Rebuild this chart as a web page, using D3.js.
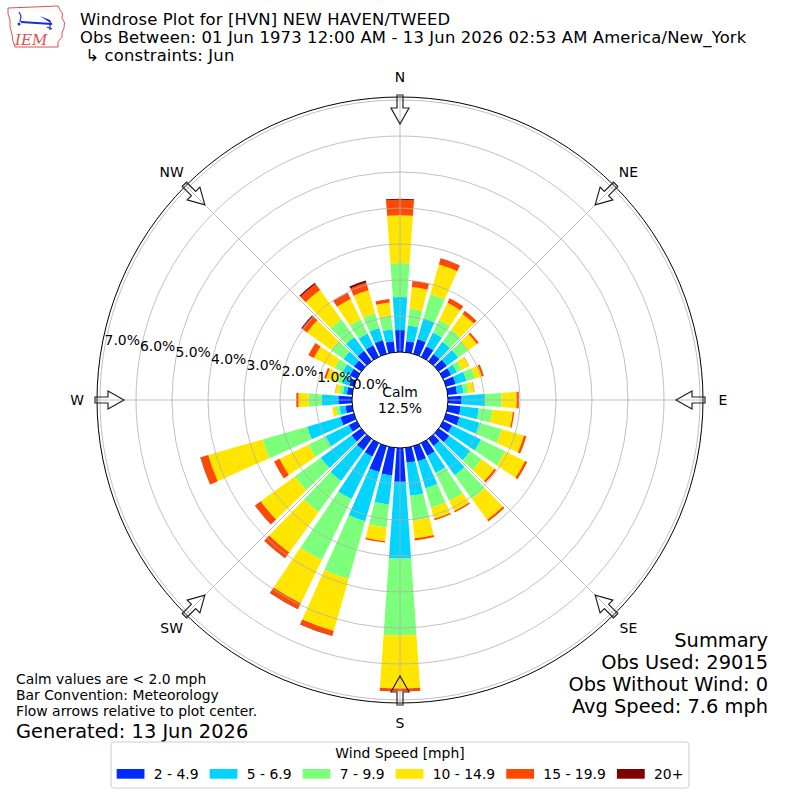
<!DOCTYPE html>
<html>
<head>
<meta charset="utf-8">
<title>Windrose HVN</title>
<script src="https://d3js.org/d3.v7.min.js"></script>
<style>
    body { margin: 0; background: #fff; }
    text { font-family: "DejaVu Sans", sans-serif; fill: #000; }
</style>
</head>
<body>
<script>
// direction of each bar, degrees clockwise from north
var directions = [0, 10, 20, 30, 40, 50, 60, 70, 80, 90, 100, 110, 120, 130, 140, 150, 160, 170,
                  180, 190, 200, 210, 220, 230, 240, 250, 260, 270, 280, 290, 300, 310, 320, 330, 340, 350];
var speedBins = ["2 - 4.9", "5 - 6.9", "7 - 9.9", "10 - 14.9", "15 - 19.9", "20+"];
var binColors = ["#002aff", "#00d4ff", "#7cff7a", "#ffe600", "#ff4800", "#800000"];

// frequency [%] per direction, one list per speed bin
var bin1 = [0.61, 0.31, 0.42, 0.33, 0.25, 0.28, 0.25, 0.28, 0.26, 0.38, 0.36, 0.39, 0.28, 0.36, 0.25, 0.39, 0.44, 0.42,
            0.94, 0.78, 0.75, 0.42, 0.39, 0.33, 0.25, 0.39, 0.19, 0.38, 0.15, 0.14, 0.22, 0.25, 0.36, 0.36, 0.39, 0.31];
var bin2 = [0.92, 0.44, 0.61, 0.42, 0.42, 0.39, 0.18, 0.31, 0.18, 0.65, 0.51, 0.58, 0.89, 0.72, 1.00, 0.53, 0.78, 0.92,
            2.13, 0.81, 1.42, 1.31, 1.06, 1.06, 0.72, 0.96, 0.17, 0.46, 0.11, 0.19, 0.22, 0.36, 0.47, 0.36, 0.36, 0.33];
var bin3 = [0.94, 0.47, 0.69, 0.39, 0.42, 0.33, 0.15, 0.25, 0.15, 0.46, 0.38, 0.64, 0.75, 0.39, 0.81, 0.86, 0.56, 0.69,
            2.13, 0.64, 1.67, 1.89, 1.06, 0.89, 0.53, 1.29, 0.10, 0.37, 0.10, 0.19, 0.25, 0.42, 0.61, 0.44, 0.42, 0.38];
var bin4 = [1.33, 0.60, 0.86, 0.53, 0.53, 0.31, 0.22, 0.19, 0.15, 0.42, 0.57, 0.64, 0.61, 0.44, 0.72, 0.32, 0.32, 0.50,
            1.48, 0.38, 1.50, 1.33, 1.39, 1.17, 0.89, 1.57, 0.10, 0.28, 0.11, 0.28, 0.64, 0.83, 1.00, 0.63, 0.67, 0.37];
var bin5 = [0.43, 0.18, 0.17, 0.14, 0.11, 0.06, 0.01, 0.06, 0.01, 0.06, 0.04, 0.07, 0.07, 0.06, 0.06, 0.04, 0.04, 0.06,
            0.07, 0.04, 0.14, 0.17, 0.19, 0.19, 0.17, 0.22, 0.00, 0.06, 0.01, 0.06, 0.17, 0.17, 0.21, 0.18, 0.22, 0.10];
var bin6 = [0.03, 0.00, 0.01, 0.00, 0.00, 0.00, 0.00, 0.00, 0.00, 0.00, 0.00, 0.00, 0.00, 0.00, 0.00, 0.00, 0.00, 0.00,
            0.01, 0.00, 0.01, 0.01, 0.01, 0.01, 0.00, 0.01, 0.00, 0.00, 0.00, 0.00, 0.00, 0.03, 0.04, 0.01, 0.06, 0.00];

var ringTicks = [0, 1, 2, 3, 4, 5, 6, 7];
var compassNames = ["N", "NE", "E", "SE", "S", "SW", "W", "NW"];
var compassAngles = [0, 45, 90, 135, 180, 225, 270, 315];

var titleLines = ["Windrose Plot for [HVN] NEW HAVEN/TWEED",
                  "Obs Between: 01 Jun 1973 12:00 AM - 13 Jun 2026 02:53 AM America/New_York",
                  " \u21b3 constraints: Jun"];
var summaryLines = ["Summary", "Obs Used: 29015", "Obs Without Wind: 0", "Avg Speed: 7.6 mph"];
var noteLines = ["Calm values are < 2.0 mph", "Bar Convention: Meteorology", "Flow arrows relative to plot center."];
var calmPct = "12.5%";

var width = 800, height = 800,
    cx = 400, cy = 400,
    rOuter = 303;

var rad = Math.PI / 180;

// radius scale, 0% sits on the calm circle
var r = d3.scaleLinear().domain([0, 7]).range([48, 300]);

var svg = d3.select("body").append("svg")
    .attr("width", width)
    .attr("height", height);

// build table for the stack
var keys = ["b1", "b2", "b3", "b4", "b5", "b6"];
var bins = [bin1, bin2, bin3, bin4, bin5, bin6];
var table = directions.map(function(dir, i) {
    var row = {dir: dir};
    keys.forEach(function(k, j) { row[k] = bins[j][i]; });
    return row;
});
var series = d3.stack().keys(keys)(table);

var color = d3.scaleOrdinal().domain(keys).range(binColors);

var plot = svg.append("g").attr("transform", "translate(" + cx + "," + cy + ")");

var halfWidth = 4 * rad;   // bars are 8 degrees wide
var arc = d3.arc()
    .innerRadius(function(d) { return r(d[0]); })
    .outerRadius(function(d) { return r(d[1]); })
    .startAngle(function(d) { return d.data.dir * rad - halfWidth; })
    .endAngle(function(d) { return d.data.dir * rad + halfWidth; });

plot.selectAll(".layer")
    .data(series)
    .enter().append("g")
    .attr("class", "layer")
    .attr("fill", function(s) { return color(s.key); })
    .selectAll("path")
    .data(function(s) { return s.filter(function(d) { return d[1] > d[0]; }); })
    .enter().append("path")
    .attr("d", arc);

// grid on top of the bars
plot.selectAll(".ring")
    .data(ringTicks.slice(1))
    .enter().append("circle")
    .attr("r", function(d) { return r(d); })
    .attr("fill", "none")
    .attr("stroke", "#b0b0b0")
    .attr("stroke-width", 0.8);

plot.selectAll(".spoke")
    .data(compassAngles)
    .enter().append("line")
    .attr("x1", function(a) { return r(0) * Math.sin(a * rad); })
    .attr("y1", function(a) { return -r(0) * Math.cos(a * rad); })
    .attr("x2", function(a) { return rOuter * Math.sin(a * rad); })
    .attr("y2", function(a) { return -rOuter * Math.cos(a * rad); })
    .attr("stroke", "#b0b0b0")
    .attr("stroke-width", 0.8);

// calm circle and outer frame
plot.append("circle").attr("r", r(0)).attr("fill", "#fff").attr("stroke", "#000").attr("stroke-width", 1);
plot.append("circle").attr("r", rOuter).attr("fill", "none").attr("stroke", "#000").attr("stroke-width", 1);

plot.append("text").attr("x", 0).attr("y", -3).attr("text-anchor", "middle")
    .style("font-size", "13.9px").text("Calm");
plot.append("text").attr("x", 0).attr("y", 13).attr("text-anchor", "middle")
    .style("font-size", "13.9px").text(calmPct);

// hollow arrows pointing at the centre
var arrowPath = "M0,-276 L9,-292 L3,-292 L3,-305 L-3,-305 L-3,-292 L-9,-292 Z";
plot.selectAll(".arrow")
    .data(compassAngles)
    .enter().append("path")
    .attr("d", arrowPath)
    .attr("transform", function(a) { return "rotate(" + a + ")"; })
    .attr("fill", "none")
    .attr("stroke", "#222")
    .attr("stroke-width", 1.2)
    .attr("stroke-linejoin", "miter");

plot.selectAll(".compass")
    .data(compassNames)
    .enter().append("text")
    .attr("x", function(d, i) { return 323 * Math.sin(compassAngles[i] * rad); })
    .attr("y", function(d, i) { return -323 * Math.cos(compassAngles[i] * rad) + 5; })
    .attr("text-anchor", "middle")
    .style("font-size", "13.9px")
    .text(function(d) { return d; });

// radial tick labels along 280 degrees
var labelAngle = 280 * rad;
plot.selectAll(".rlabel")
    .data(ringTicks)
    .enter().append("text")
    .attr("x", function(d) { return r(d) * Math.sin(labelAngle); })
    .attr("y", function(d) { return -r(d) * Math.cos(labelAngle) - 3; })
    .style("font-size", "13.9px")
    .text(function(d) { return d.toFixed(1) + "%"; });

// title
svg.selectAll(".title")
    .data(titleLines)
    .enter().append("text")
    .attr("x", 80)
    .attr("y", function(d, i) { return 25 + i * 18; })
    .style("font-size", "16.4px")
    .style("letter-spacing", "0.15px")
    .style("white-space", "pre")
    .text(function(d) { return d; });

// IEM logo, rough
var logo = svg.append("g");
logo.append("path")
    .attr("d", "M8,8 L58,6 L60,10 Q64,13 62,18 Q66,22 64,28 Q61,33 62,37 L58,42 L58,47 L15,47 Q12,40 12,34 Q9,27 10,20 Q7,14 8,8 Z")
    .attr("fill", "#fff").attr("stroke", "#d9534f").attr("stroke-width", 1);
logo.append("line").attr("x1", 21).attr("y1", 22).attr("x2", 52).attr("y2", 24)
    .attr("stroke", "#1a2fd0").attr("stroke-width", 2);
logo.append("path").attr("d", "M40,16 L50,20 L52,24 Z").attr("fill", "#1a2fd0");
logo.append("path").attr("d", "M19,12 L21,16 L20,22").attr("fill", "none").attr("stroke", "#1a2fd0").attr("stroke-width", 1.2);
logo.append("circle").attr("cx", 19).attr("cy", 24).attr("r", 1.5).attr("fill", "#1a2fd0");
logo.append("path").attr("d", "M50,24 L50,30 M47,27 L52,29").attr("stroke", "#1a2fd0").attr("stroke-width", 1.2);
logo.append("text").attr("x", 15).attr("y", 45)
    .style("font-family", "'DejaVu Serif', serif").style("font-style", "italic")
    .style("font-size", "15px").style("fill", "#d9534f").text("IEM");

// summary on the right
svg.selectAll(".summary")
    .data(summaryLines)
    .enter().append("text")
    .attr("x", 768)
    .attr("y", function(d, i) { return 647 + i * 22; })
    .attr("text-anchor", "end")
    .style("font-size", "19.4px")
    .text(function(d) { return d; });

// notes on the left
svg.selectAll(".note")
    .data(noteLines)
    .enter().append("text")
    .attr("x", 16)
    .attr("y", function(d, i) { return 684 + i * 16.2; })
    .style("font-size", "13.9px")
    .text(function(d) { return d; });
svg.append("text").attr("x", 16).attr("y", 738)
    .style("font-size", "19.4px").text("Generated: 13 Jun 2026");

// legend
var legend = svg.append("g");
var legBox = legend.append("rect")
    .attr("y", 742).attr("height", 46).attr("rx", 3)
    .attr("fill", "#fff").attr("stroke", "#cccccc").attr("stroke-width", 1);
var items = legend.selectAll(".item")
    .data(speedBins)
    .enter().append("g");
items.append("rect")
    .attr("y", 769).attr("width", 27.8).attr("height", 9.7)
    .attr("fill", function(d, i) { return binColors[i]; });
items.append("text")
    .attr("x", 37.1).attr("y", 779)
    .style("font-size", "13.9px")
    .text(function(d) { return d; });

// lay out the columns from the measured text widths
var pos = 0, offsets = [];
items.each(function() {
    offsets.push(pos);
    pos += 37.1 + d3.select(this).select("text").node().getComputedTextLength() + 11.1;
});
var legWidth = pos - 11.1 + 11.2;
var legLeft = cx - legWidth / 2;
items.attr("transform", function(d, i) { return "translate(" + (legLeft + 5.6 + offsets[i]) + ",0)"; });
items.select("rect").attr("x", 0);
legBox.attr("x", legLeft).attr("width", legWidth);
legend.append("text").attr("x", cx).attr("y", 758).attr("text-anchor", "middle")
    .style("font-size", "13.9px").text("Wind Speed [mph]");
</script>
</body>
</html>
